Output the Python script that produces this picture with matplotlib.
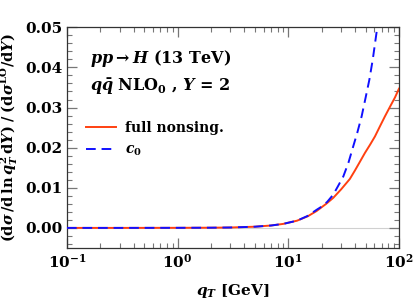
import numpy as np
import matplotlib
matplotlib.use('Agg')
import matplotlib.pyplot as plt
from matplotlib.ticker import MultipleLocator, LogLocator, NullFormatter

plt.rcParams['font.family'] = 'DejaVu Serif'
plt.rcParams['font.weight'] = 'bold'
plt.rcParams['axes.labelweight'] = 'bold'
plt.rcParams['mathtext.fontset'] = 'custom'
plt.rcParams['mathtext.rm'] = 'DejaVu Serif:bold'
plt.rcParams['mathtext.bf'] = 'DejaVu Serif:bold'
plt.rcParams['mathtext.it'] = 'DejaVu Serif:italic:bold'

# full nonsingular
q_full = [0.1, 0.3, 1, 2, 3, 5, 7, 9, 12, 15, 18, 22, 25.5, 30, 36, 40, 44, 49.3,
          55, 60.7, 67, 74.7, 83, 92, 100]
r_full = [0, 0, 0.00002, 0.00005, 0.0001, 0.0003, 0.0006, 0.001, 0.0018, 0.0029,
          0.0042, 0.006, 0.0075, 0.0096, 0.0122, 0.0143, 0.0163, 0.0187, 0.0208,
          0.0228, 0.0252, 0.0278, 0.0302, 0.0325, 0.0347]

# c0
q_c0 = [0.1, 0.3, 1, 2, 3, 5, 7, 9, 12, 15, 18, 20, 22.5, 25.5, 28, 31.4, 35, 38.6,
        42, 46, 50, 54, 58, 63.7, 66]
r_c0 = [0, 0, 0.00002, 0.00005, 0.0001, 0.0003, 0.0006, 0.001, 0.0018, 0.003,
        0.0045, 0.0053, 0.0065, 0.0083, 0.0103, 0.0128, 0.0163, 0.0203, 0.0237,
        0.0278, 0.0325, 0.0369, 0.042, 0.05, 0.053]

fig = plt.figure(figsize=(4.13, 3.05), dpi=100)
ax = fig.add_axes([0.162, 0.187, 0.804, 0.7235])

ax.axhline(0, color='#d0d0d0', lw=0.8, zorder=1)
ax.plot(q_full, r_full, color='#ff4010', lw=1.4, label='full nonsing.', zorder=3)
ax.plot(q_c0, r_c0, color='#1010ff', lw=1.4, ls=(0, (5, 3)), label=r'$c_0$', zorder=4)

ax.set_xscale('log')
ax.set_xlim(0.1, 100)
ax.set_ylim(-0.005, 0.05)
ax.yaxis.set_major_locator(MultipleLocator(0.01))
ax.yaxis.set_minor_locator(MultipleLocator(0.002))
ax.yaxis.set_major_formatter(plt.FormatStrFormatter('%.2f'))
ax.xaxis.set_minor_locator(LogLocator(base=10, subs=np.arange(2, 10)))
ax.xaxis.set_minor_formatter(NullFormatter())

ax.tick_params(which='both', direction='in', top=True, right=True, colors='#777777',
               labelcolor='black', labelsize=11)
ax.tick_params(which='major', length=7, width=0.9)
ax.tick_params(which='minor', length=3.5, width=0.8)
for s in ax.spines.values():
    s.set_color('#333333')
    s.set_linewidth(0.9)

ax.set_xlabel(r'$q_T$ [GeV]', fontsize=11, labelpad=8)
ax.set_ylabel(r'$(\mathrm{d}\sigma\,/\mathrm{d}\,\ln q_T^2\,\mathrm{d}Y)\;/\;(\mathrm{d}\sigma^{\mathrm{LO}}/\mathrm{d}Y)$',
              fontsize=10.5)
ax.yaxis.set_label_coords(-0.142, 0.5)

ax.text(0.07, 0.84, r'$pp \rightarrow H$ (13 TeV)', transform=ax.transAxes, fontsize=11.5)
ax.text(0.07, 0.71, r'$q\bar{q}$ NLO$_0$ , $Y$ = 2', transform=ax.transAxes, fontsize=11.5)

ax.legend(loc='upper left', bbox_to_anchor=(0.04, 0.60), frameon=False, fontsize=10,
          handlelength=2.2, handletextpad=0.6, labelspacing=0.55, borderaxespad=0)

fig.savefig('out.png', dpi=100)
